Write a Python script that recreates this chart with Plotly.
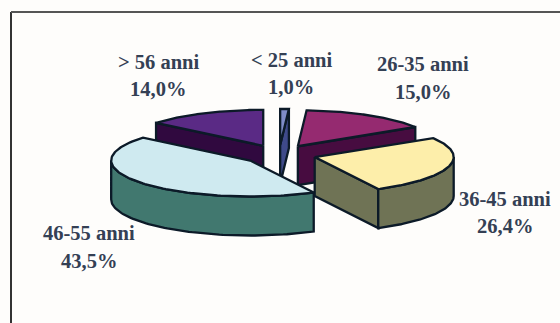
import numpy as np
import plotly.graph_objects as go

# Age bands and their shares, in percent
age_bands = ["< 25 anni", "26-35 anni", "36-45 anni", "46-55 anni", "> 56 anni"]
shares = [1.0, 15.0, 26.4, 43.5, 14.0]
share_labels = ["1,0%", "15,0%", "26,4%", "43,5%", "14,0%"]

top_colors = ["#7f8cc8", "#952a70", "#fdeeaa", "#cfeaf0", "#5a2a85"]
wall_colors = ["#3f4a8a", "#470c40", "#6f7355", "#41786f", "#30093f"]
OUTLINE = "#0c1a28"

# Exploded pie projection: page units, y growing downward
CX, CY = 279.0, 154.5
RX, RY = 139.0, 36.0
DEPTH = 39.0
EXPLODE = 37.0

# Two text lines per label, anchored at their centre
label_anchor = [(291, 60, 87), (423, 64, 92), (505, 199, 226), (89, 233, 261), (158, 62, 89)]

# Far slices go first so the near ones overlap them
draw_order = [4, 0, 1, 2, 3]

total = sum(shares)
edges = np.concatenate([[0.0], np.cumsum(shares)]) / total * 2 * np.pi


def rim(theta, ax, ay):
    return ax + RX * np.sin(theta), ay - RY * np.cos(theta)


def add_polygon(fig, xs, ys, color):
    fig.add_trace(go.Scatter(
        x=list(xs) + [xs[0]], y=list(ys) + [ys[0]],
        mode="lines", fill="toself", fillcolor=color,
        line=dict(color=OUTLINE, width=2.3), hoverinfo="skip", showlegend=False,
    ))


fig = go.Figure()

for i in draw_order:
    a0, a1 = edges[i], edges[i + 1]
    mid = (a0 + a1) / 2
    ax = CX + EXPLODE * np.sin(mid)
    ay = CY - EXPLODE * RY / RX * np.cos(mid)

    # Straight cut faces that turn toward the viewer
    for ang, facing in ((a0, np.sin(a0) < -1e-6), (a1, np.sin(a1) > 1e-6)):
        if facing:
            ex, ey = rim(ang, ax, ay)
            add_polygon(fig, [ax, ex, ex, ax], [ay, ey, ey + DEPTH, ay + DEPTH], wall_colors[i])

    # Curved outer wall on the near half of the ellipse
    lo, hi = max(a0, np.pi / 2), min(a1, 3 * np.pi / 2)
    if hi > lo:
        t = np.linspace(lo, hi, 80)
        ox, oy = rim(t, ax, ay)
        add_polygon(fig, np.r_[ox, ox[::-1]], np.r_[oy, oy[::-1] + DEPTH], wall_colors[i])

    # Top face
    t = np.linspace(a0, a1, 120)
    tx, ty = rim(t, ax, ay)
    add_polygon(fig, np.r_[ax, tx], np.r_[ay, ty], top_colors[i])

for band, pct, (lx, y1, y2) in zip(age_bands, share_labels, label_anchor):
    for text, ly in ((band, y1), (pct, y2)):
        fig.add_annotation(
            x=lx, y=ly, text=f"<b>{text}</b>", showarrow=False, xanchor="center", yanchor="middle",
            font=dict(family="Liberation Serif", size=20.5, color="#344054"),
        )

# Chart frame: a left rule and a top rule running off the page
fig.add_shape(type="line", x0=11, x1=11, y0=12, y1=323, line=dict(color="#333333", width=2))
fig.add_shape(type="line", x0=11, x1=560, y0=12, y1=12, line=dict(color="#555555", width=2))

fig.update_layout(
    width=560, height=323, margin=dict(l=0, r=0, t=0, b=0),
    paper_bgcolor="#fefdfb", plot_bgcolor="#fefdfb", showlegend=False,
    xaxis=dict(range=[0, 560], visible=False, fixedrange=True),
    yaxis=dict(range=[323, 0], visible=False, fixedrange=True),
)

fig.write_html("out.html")
